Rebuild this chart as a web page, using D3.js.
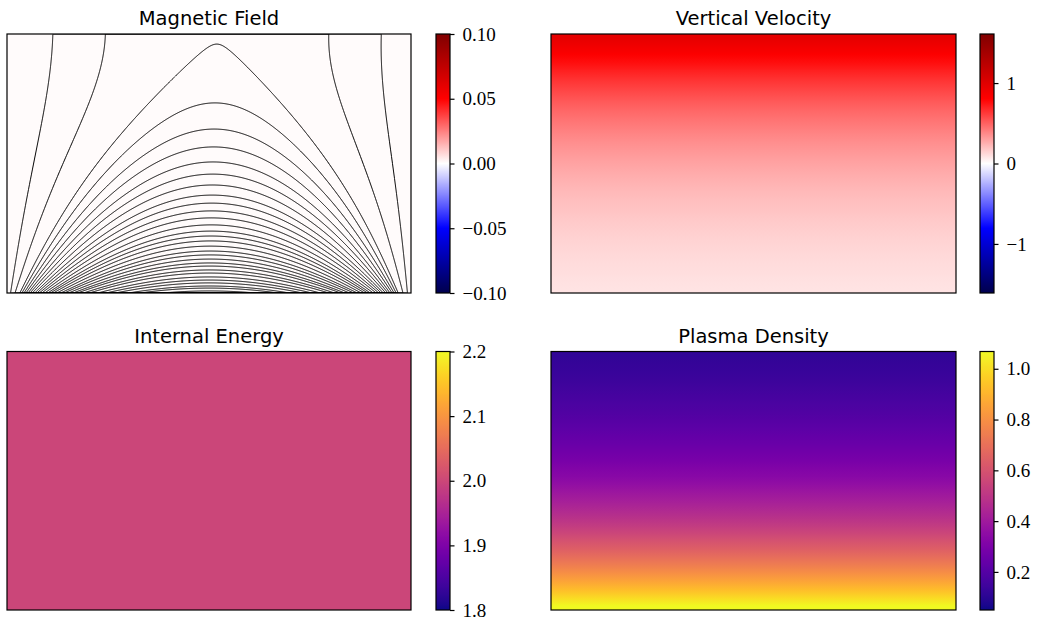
<!DOCTYPE html>
<html><head><meta charset="utf-8">
<script src="https://cdn.jsdelivr.net/npm/d3@7"></script>
<style>body{margin:0;background:#fff}</style>
</head><body><div id="chart"></div>
<script>
// ---------------- data ----------------
const panelTitles = ["Magnetic Field", "Vertical Velocity", "Internal Energy", "Plasma Density"];

// Magnetic field panel
const magneticRange = [-0.10, 0.10];
const magneticTicks = [-0.10, -0.05, 0.00, 0.05, 0.10];
const magneticBackground = 0.0008;
// apex heights of closed field lines (fraction of box height, read at the centre)
const fieldLineApexHeight = [0.961, 0.734, 0.633, 0.564, 0.506, 0.459, 0.417, 0.378, 0.347, 0.317,
  0.290, 0.263, 0.239, 0.220, 0.201, 0.181, 0.162, 0.147, 0.131, 0.116, 0.104, 0.089, 0.077,
  0.062, 0.050, 0.039, 0.027, 0.019, 0.008];
// open field lines: where they cross the top edge (fraction of half-width from centre)
const openLineTopX = [-0.813, -0.553];
const domainHeight = 1.282;      // model height in half-width units
const topCentreShift = 0.04;     // slight lean of the arcade
const footpointDepth = 0.14;     // depth of the two flux sources under the bottom corners

// Vertical velocity (32 rows, top to bottom)
const velocityRange = [-1.61, 1.61];
const velocityTicks = [-1, 0, 1];
const velocityRows = [0.962, 0.891, 0.825, 0.763, 0.707, 0.654, 0.606, 0.561, 0.519, 0.481,
  0.445, 0.412, 0.381, 0.353, 0.327, 0.303, 0.280, 0.259, 0.240, 0.222, 0.206, 0.191, 0.177,
  0.163, 0.151, 0.140, 0.130, 0.120, 0.111, 0.103, 0.095, 0.088];

// Internal energy (uniform)
const energyRange = [1.8, 2.2];
const energyTicks = [1.8, 1.9, 2.0, 2.1, 2.2];
const energyRows = [2.0, 2.0];

// Plasma density (32 rows, top to bottom)
const densityRange = [0.050, 1.068];
const densityTicks = [0.2, 0.4, 0.6, 0.8, 1.0];
const densityRows = [0.1138, 0.1223, 0.1315, 0.1413, 0.1519, 0.1633, 0.1755, 0.1887, 0.2028,
  0.2180, 0.2343, 0.2519, 0.2708, 0.2910, 0.3128, 0.3363, 0.3615, 0.3885, 0.4176, 0.4489,
  0.4825, 0.5187, 0.5575, 0.5993, 0.6442, 0.6924, 0.7443, 0.8000, 0.8599, 0.9244, 0.9936, 1.068];

// ---------------- layout ----------------
const W = 1037, H = 622;
const cols = [{x: 7, w: 404, cb: 436}, {x: 551, w: 405, cb: 980}];
const rows = [{y: 34, h: 259}, {y: 351.5, h: 258.5}];
const cbW = 14;

const svg = d3.select("#chart").append("svg").attr("width", W).attr("height", H)
  .style("font-family", "'DejaVu Sans', sans-serif");
const defs = svg.append("defs");

const seismic = d3.scaleLinear().domain([0, 0.25, 0.5, 0.75, 1])
  .range(["#00004d", "#0000ff", "#ffffff", "#ff0000", "#800000"]).interpolate(d3.interpolateRgb).clamp(true);
const plasma = t => d3.interpolatePlasma(Math.max(0, Math.min(1, t)));

function colorFn(cmap, range) {
  const n = d3.scaleLinear().domain(range).range([0, 1]);
  return v => cmap(n(v));
}

function panel(ci, ri, title) {
  const c = cols[ci], r = rows[ri];
  const g = svg.append("g");
  const id = "clip" + ci + ri;
  defs.append("clipPath").attr("id", id).append("rect")
    .attr("x", c.x).attr("y", r.y).attr("width", c.w).attr("height", r.h);
  g.append("text").attr("x", c.x + c.w / 2).attr("y", r.y - 9).attr("text-anchor", "middle")
    .attr("font-size", 19.5).attr("fill", "#000").text(title);
  const body = g.append("g").attr("clip-path", `url(#${id})`);
  return {g, body, c, r, key: "" + ci + ri};
}

function frame(p) {
  p.g.append("rect").attr("x", p.c.x).attr("y", p.r.y).attr("width", p.c.w).attr("height", p.r.h)
    .attr("fill", "none").attr("stroke", "#000").attr("stroke-width", 1.2);
}

function colorbar(p, cmap, range, ticks, fmt, key) {
  const x = p.c.cb, y = p.r.y, h = p.r.h;
  const gid = "grad" + key;
  const grad = defs.append("linearGradient").attr("id", gid)
    .attr("x1", 0).attr("y1", 1).attr("x2", 0).attr("y2", 0);
  d3.range(0, 1.0001, 0.01).forEach(t => grad.append("stop").attr("offset", t).attr("stop-color", cmap(t)));
  p.g.append("rect").attr("x", x).attr("y", y).attr("width", cbW).attr("height", h)
    .attr("fill", `url(#${gid})`).attr("stroke", "#000").attr("stroke-width", 1.2);
  const s = d3.scaleLinear().domain(range).range([y + h, y]);
  const ax = p.g.append("g").attr("transform", `translate(${x + cbW},0)`)
    .call(d3.axisRight(s).tickValues(ticks).tickSize(4.5).tickPadding(8).tickFormat(fmt));
  ax.select(".domain").remove();
  ax.selectAll(".tick line").attr("stroke", "#000").attr("stroke-width", 1.2);
  ax.selectAll(".tick text").attr("font-family", "'Liberation Serif', 'DejaVu Serif', serif")
    .attr("font-size", 19).attr("fill", "#000");
}

// smooth vertical field: one gradient stop per data row, placed by a band scale
function rowField(p, values, cfn) {
  const band = d3.scaleBand().domain(d3.range(values.length)).range([0, 1]);
  const gid = "field" + p.key;
  const grad = defs.append("linearGradient").attr("id", gid)
    .attr("x1", 0).attr("y1", 0).attr("x2", 0).attr("y2", 1);
  grad.selectAll("stop").data(values).join("stop")
    .attr("offset", (d, i) => band(i) + band.bandwidth() / 2)
    .attr("stop-color", d => cfn(d));
  p.body.append("rect").attr("x", p.c.x).attr("y", p.r.y).attr("width", p.c.w).attr("height", p.r.h)
    .attr("fill", `url(#${gid})`);
}

// ---------- Magnetic field: potential arcade rooted near the bottom corners ----------
const phi = u => (2 / Math.PI) * Math.atan(u / footpointDepth);
const f0 = phi(2) - 1, f1 = 2 * phi(1) - 1;
const bottomFlux = x => (phi(1 + x) + phi(1 - x) - 1 - f0) / (f1 - f0);
const NMODES = 160;   // odd modes cos(n*pi*x/2)
const coef = [];
{
  const M = 6000;
  for (let m = 0; m < NMODES; m++) {
    const n = 2 * m + 1;
    let s = 0;
    for (let q = 0; q < M; q++) {
      const x = -1 + (q + 0.5) * 2 / M;
      s += bottomFlux(x) * Math.cos(n * Math.PI * x / 2);
    }
    coef.push(s * 2 / M);
  }
}
function fluxTerms(Z) {
  const t = [];
  for (let m = 0; m < NMODES; m++) {
    const a = (2 * m + 1) * Math.PI / 2;
    const R = (Math.exp(-a * Z) + Math.exp(-a * (2 * domainHeight - Z))) / (1 + Math.exp(-2 * a * domainHeight));
    t.push(coef[m] * R);
  }
  return t;
}
function fluxAt(X, terms) {
  const th = Math.PI * X / 2, c2 = 2 * Math.cos(2 * th);
  let cPrev = Math.cos(th), cCur = Math.cos(th), s = 0;
  for (let m = 0; m < terms.length; m++) {
    s += terms[m] * cCur;
    const nx = c2 * cCur - cPrev; cPrev = cCur; cCur = nx;
  }
  return s;
}
function fluxModel(X, Z) { return fluxAt(X - topCentreShift * Z / domainHeight, fluxTerms(Z)); }

{
  const p = panel(0, 0, panelTitles[0]);
  const bg = colorFn(seismic, magneticRange);
  p.body.append("rect").attr("x", p.c.x).attr("y", p.r.y).attr("width", p.c.w).attr("height", p.r.h)
    .attr("fill", bg(magneticBackground));
  const nx = 404, ny = 260;
  const grid = new Float64Array(nx * ny);
  for (let j = 0; j < ny; j++) {
    const Z = domainHeight * (1 - (j + 0.5) / ny);
    const terms = fluxTerms(Z);
    const sh = topCentreShift * Z / domainHeight;
    for (let i = 0; i < nx; i++) {
      const X = ((i + 0.5) / nx) * 2 - 1 - sh;
      grid[j * nx + i] = fluxAt(X, terms);
    }
  }
  const levels = openLineTopX.map(x => fluxModel(x + topCentreShift, domainHeight))
    .concat(fieldLineApexHeight.map(h => fluxModel(topCentreShift * h, h * domainHeight)));
  const contours = d3.contours().size([nx, ny]).thresholds(levels)(grid);
  const sx = p.c.w / nx, sy = p.r.h / ny, ox = p.c.x, oy = p.r.y;
  const path = d3.geoPath(d3.geoTransform({point(x, y) { this.stream.point(ox + x * sx, oy + y * sy); }}));
  p.body.selectAll("path.cl").data(contours).join("path").attr("class", "cl")
    .attr("d", path).attr("fill", "none").attr("stroke", "#000").attr("stroke-width", 1);
  frame(p);
  colorbar(p, seismic, magneticRange, magneticTicks, d3.format(".2f"), "m");
}

{
  const p = panel(1, 0, panelTitles[1]);
  rowField(p, velocityRows, colorFn(seismic, velocityRange));
  frame(p);
  colorbar(p, seismic, velocityRange, velocityTicks, d3.format("d"), "v");
}
{
  const p = panel(0, 1, panelTitles[2]);
  rowField(p, energyRows, colorFn(plasma, energyRange));
  frame(p);
  colorbar(p, plasma, energyRange, energyTicks, d3.format(".1f"), "e");
}
{
  const p = panel(1, 1, panelTitles[3]);
  rowField(p, densityRows, colorFn(plasma, densityRange));
  frame(p);
  colorbar(p, plasma, densityRange, densityTicks, d3.format(".1f"), "d");
}
</script></body></html>
